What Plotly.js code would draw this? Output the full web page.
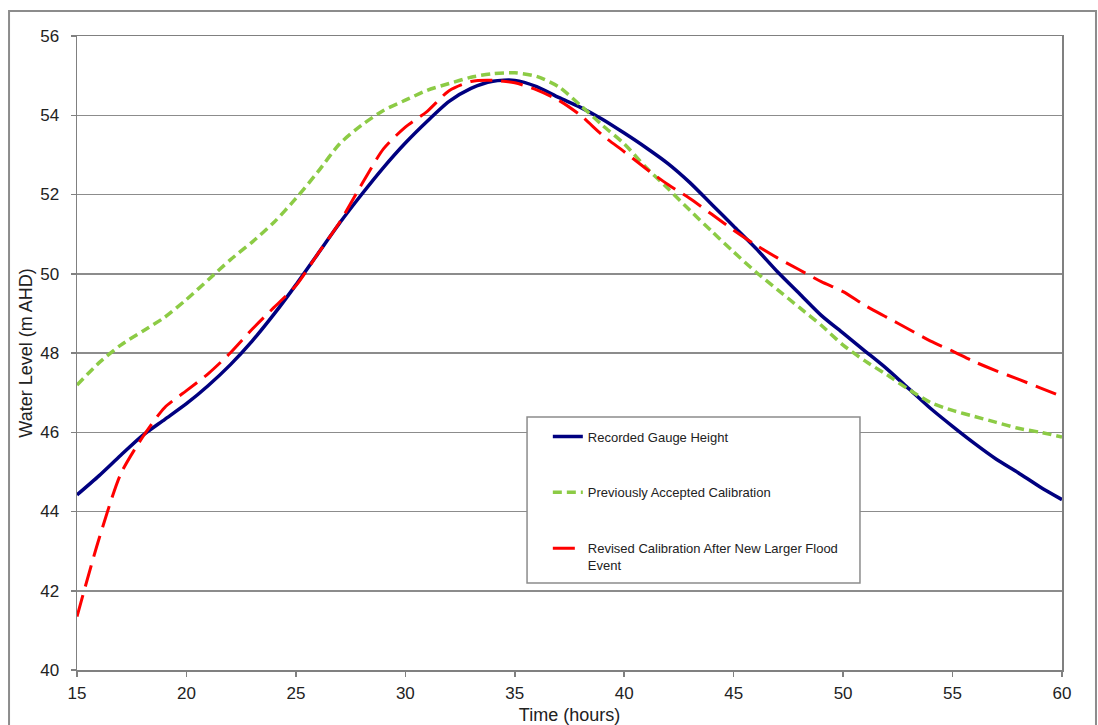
<!DOCTYPE html>
<html>
<head>
<meta charset="utf-8">
<script src="https://cdn.plot.ly/plotly-3.0.1.min.js"></script>
<style>
  html, body { margin: 0; padding: 0; background: #fff; }
  #chart { width: 1098px; height: 725px; }
</style>
</head>
<body>
<div id="chart"></div>
<script>
const hours = [15,16,17,18,19,20,21,22,23,24,25,26,27,28,29,30,31,32,33,34,35,36,37,38,39,40,41,42,43,44,45,46,47,48,49,50,51,52,53,54,55,56,57,58,59,60];

const recordedGauge = [44.42,44.90,45.42,45.92,46.32,46.72,47.18,47.70,48.30,48.98,49.72,50.50,51.28,52.00,52.68,53.30,53.85,54.35,54.68,54.86,54.88,54.72,54.45,54.20,53.90,53.55,53.18,52.78,52.30,51.75,51.20,50.65,50.05,49.50,48.95,48.50,48.05,47.60,47.10,46.60,46.15,45.72,45.32,44.98,44.62,44.30];

const previousCalibration = [47.19,47.75,48.20,48.55,48.90,49.35,49.85,50.35,50.80,51.30,51.90,52.57,53.28,53.75,54.12,54.38,54.63,54.80,54.96,55.05,55.07,54.98,54.72,54.25,53.75,53.28,52.68,52.15,51.60,51.07,50.55,50.05,49.60,49.15,48.70,48.20,47.80,47.45,47.08,46.75,46.55,46.40,46.25,46.10,46.00,45.88];

const revisedCalibration = [41.35,43.30,44.95,45.88,46.62,47.05,47.48,48.00,48.60,49.15,49.70,50.50,51.30,52.25,53.15,53.70,54.10,54.62,54.85,54.88,54.82,54.64,54.38,54.00,53.50,53.08,52.65,52.25,51.90,51.50,51.10,50.73,50.40,50.10,49.80,49.55,49.20,48.90,48.60,48.30,48.05,47.78,47.55,47.34,47.12,46.90];

const seriesNames = ["Recorded Gauge Height", "Previously Accepted Calibration", "Revised Calibration After New Larger Flood<br>Event"];
const xTicks = [15,20,25,30,35,40,45,50,55,60];
const yTicks = [40,42,44,46,48,50,52,54,56];

const font = "Liberation Sans, Arial, sans-serif";

const traces = [
  { x: hours, y: recordedGauge, name: seriesNames[0], mode: "lines", legendgroup: "a",
    line: { color: "#000080", width: 3.5, shape: "spline", smoothing: 0.7 } },
  { x: hours, y: previousCalibration, name: seriesNames[1], mode: "lines", legendgroup: "b",
    line: { color: "#8CCB45", width: 3.5, dash: "9px,5px", shape: "spline", smoothing: 0.7 } },
  { x: hours, y: revisedCalibration, name: seriesNames[2], mode: "lines", legendgroup: "c",
    line: { color: "#FF0000", width: 3, dash: "22px,9px", shape: "spline", smoothing: 0.7 } }
];

const layout = {
  width: 1098, height: 725,
  margin: { l: 77, r: 36, t: 36, b: 55 },
  paper_bgcolor: "#ffffff", plot_bgcolor: "#ffffff",
  font: { family: font, color: "#222222", size: 16 },
  showlegend: true,
  legend: {
    x: 0.478, y: 0.392, xanchor: "left", yanchor: "top",
    bgcolor: "rgba(0,0,0,0)", borderwidth: 0,
    font: { family: font, size: 13, color: "#222222" },
    traceorder: "grouped", tracegroupgap: 36, valign: "top"
  },
  xaxis: {
    range: [15, 60], tickvals: xTicks, ticktext: xTicks.map(String),
    showgrid: false, zeroline: false,
    showline: true, linecolor: "#808080", linewidth: 1.5, mirror: true,
    ticks: "outside", ticklen: 5, tickcolor: "#808080", tickwidth: 1.5,
    tickfont: { family: font, size: 17, color: "#222222" },
    ticklabelstandoff: 2,
    title: { text: "Time (hours)", font: { family: font, size: 18, color: "#222222" }, standoff: 9 }
  },
  yaxis: {
    range: [40, 56], tickvals: yTicks, ticktext: yTicks.map(String),
    showgrid: true, gridcolor: "#8c8c8c", gridwidth: 1.5, zeroline: false,
    showline: true, linecolor: "#808080", linewidth: 1.5, mirror: true,
    ticks: "outside", ticklen: 5, tickcolor: "#808080", tickwidth: 1.5,
    tickfont: { family: font, size: 17, color: "#222222" },
    ticklabelstandoff: 8,
    title: { text: "Water Level (m AHD)", font: { family: font, size: 18, color: "#222222" }, standoff: 3 }
  },
  shapes: [
    { type: "rect", xref: "paper", yref: "paper",
      x0: -0.069, x1: 1.0345, y0: -0.12, y1: 1.0394,
      line: { color: "#8c8c8c", width: 2 }, fillcolor: "rgba(0,0,0,0)", layer: "below" },
    { type: "rect", xref: "paper", yref: "paper",
      x0: 0.4569, x1: 0.7949, y0: 0.1372, y1: 0.399,
      line: { color: "#8c8c8c", width: 1.5 }, fillcolor: "#ffffff", layer: "above" }
  ]
};

Plotly.newPlot("chart", traces, layout, { staticPlot: true, displayModeBar: false });
</script>
</body>
</html>
